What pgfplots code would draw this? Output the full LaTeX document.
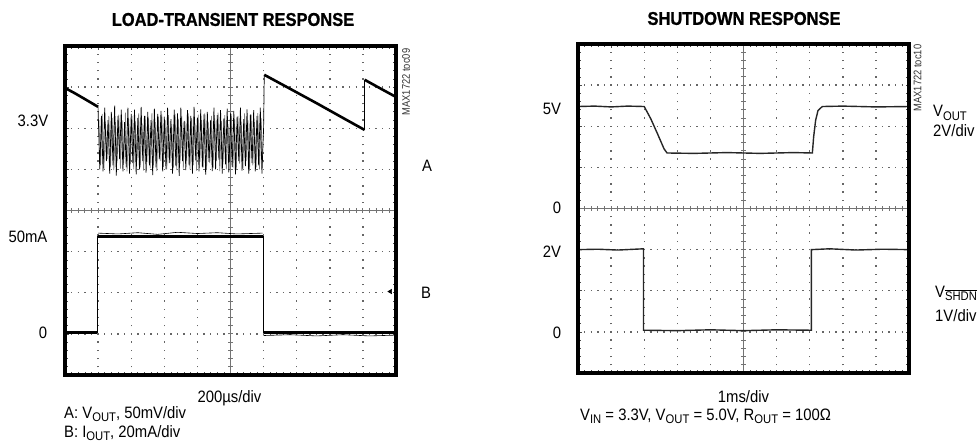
\documentclass[border=0pt]{standalone}
\usepackage{fontspec}
\setmainfont[FakeStretch=0.9]{Liberation Sans}
\newfontfamily\titlefont[FakeStretch=0.89, BoldFeatures={FakeStretch=0.89, FakeBold=1}]{Liberation Sans}
\newfontfamily\codefont[FakeStretch=0.85]{Liberation Sans}
\usepackage{pgfplots}
\pgfplotsset{compat=1.18}
\pgfplotsset{scopeaxis/.style={
  scale only axis, width=331pt, height=329pt,
  xmin=0, xmax=10, ymin=0, ymax=8,
  xtick={0,1,...,10}, ytick={0,1,...,8},
  minor x tick num=4, minor y tick num=4,
  xticklabels={}, yticklabels={},
  tick align=inside, major tick length=3.5pt, minor tick length=3pt,
  every tick/.style={black!70, line width=0.7pt},
  grid=major,
  major x grid style={black!60, line width=1.4pt, dash pattern=on 1.4pt off 6.825pt, dash phase=0.7pt},
  major y grid style={black!60, line width=1.4pt, dash pattern=on 1.4pt off 5.22pt, dash phase=0.7pt},
  axis line style={line width=3.5pt},
  every outer x axis line/.append style={line width=3.5pt},
  every outer y axis line/.append style={line width=3.5pt},
  anchor=south west,
}}
\newcommand{\sub}[1]{\raisebox{-0.35ex}{\fontsize{12.5}{13}\selectfont #1}}
\newcommand{\centercross}{%
\draw[black!55, line width=0.8pt] (axis cs:0,4) -- (axis cs:10,4);
\draw[black!55, line width=5pt, dash pattern=on 0.9pt off 5.72pt, dash phase=0.45pt] (axis cs:0,4) -- (axis cs:10,4);
\draw[black!55, line width=0.8pt] (axis cs:5,0) -- (axis cs:5,8);
\draw[black!55, line width=5pt, dash pattern=on 0.9pt off 7.325pt, dash phase=0.45pt] (axis cs:5,0) -- (axis cs:5,8);}
\newcommand{\frameit}{\draw[black, line width=3.5pt] (rel axis cs:0,0) rectangle (rel axis cs:1,1);}
\begin{document}
\begin{tikzpicture}
\useasboundingbox (0,0) rectangle (979pt,445pt);
% ---------------- LEFT PANEL ----------------
\begin{axis}[scopeaxis, at={(65pt,70pt)}, clip=false]
\centercross
% trace A: noisy part (gray)
\addplot[black!50, line width=0.7pt] coordinates {
(1.025,6.2) (1.075,5.1) (1.125,6.35) (1.175,5.0) (1.225,6.1) (1.275,5.25) (1.325,6.3) (1.375,5.05)
(1.425,6.25) (1.475,4.98) (1.525,6.15) (1.575,5.2) (1.625,6.33) (1.675,5.02) (1.725,6.2) (1.775,5.15)
(1.825,6.38) (1.875,4.95) (1.925,6.22) (1.975,5.12) (2.025,6.3) (2.075,5.0) (2.125,6.18) (2.175,5.22)
(2.225,6.36) (2.275,5.05) (2.325,6.12) (2.375,4.97) (2.425,6.3) (2.475,5.18) (2.525,6.24) (2.575,5.03)
(2.625,6.37) (2.675,5.1) (2.725,6.15) (2.775,4.96) (2.825,6.28) (2.875,5.2) (2.925,6.34) (2.975,5.06)
(3.025,6.2) (3.075,5.0) (3.125,6.32) (3.175,5.16) (3.225,6.1) (3.275,5.04) (3.325,6.35) (3.375,4.98)
(3.425,6.22) (3.475,5.14) (3.525,6.3) (3.575,5.02) (3.625,6.16) (3.675,5.2) (3.725,6.36) (3.775,5.0)
(3.825,6.25) (3.875,5.1) (3.925,6.12) (3.975,4.97) (4.025,6.33) (4.075,5.18) (4.125,6.2) (4.175,5.05)
(4.225,6.36) (4.275,4.99) (4.325,6.14) (4.375,5.15) (4.425,6.3) (4.475,5.03) (4.525,6.24) (4.575,5.2)
(4.625,6.38) (4.675,4.96) (4.725,6.18) (4.775,5.12) (4.825,6.32) (4.875,5.0) (4.925,6.1) (4.975,5.17)
(5.025,6.35) (5.075,5.04) (5.125,6.22) (5.175,4.98) (5.225,6.3) (5.275,5.14) (5.325,6.16) (5.375,5.02)
(5.425,6.36) (5.475,5.2) (5.525,6.2) (5.575,4.97) (5.625,6.33) (5.675,5.1) (5.725,6.15) (5.775,5.05)
(5.825,6.37) (5.875,5.0) (5.925,6.25) (5.975,5.15)
};
% trace A: noisy part (black)
\addplot[black, line width=0.7pt] coordinates {
(1.00,6.52) (1.00,6.45) (1.05,5.0) (1.10,6.3) (1.15,4.95) (1.20,6.5) (1.25,5.2) (1.30,6.2) (1.35,4.9)
(1.40,6.4) (1.45,5.1) (1.50,6.55) (1.55,4.85) (1.60,6.3) (1.65,5.25) (1.70,6.45) (1.75,4.95)
(1.80,6.15) (1.85,5.05) (1.90,6.5) (1.95,4.9) (2.00,6.35) (2.05,5.15) (2.10,6.45) (2.15,4.88)
(2.20,6.25) (2.25,5.0) (2.30,6.52) (2.35,5.2) (2.40,6.3) (2.45,4.92) (2.50,6.4) (2.55,5.1)
(2.60,6.2) (2.65,4.86) (2.70,6.48) (2.75,5.05) (2.80,6.35) (2.85,5.25) (2.90,6.42) (2.95,4.95)
(3.00,6.28) (3.05,5.0) (3.10,6.5) (3.15,5.15) (3.20,6.22) (3.25,4.9) (3.30,6.45) (3.35,5.08)
(3.40,6.36) (3.45,4.84) (3.50,6.5) (3.55,5.2) (3.60,6.18) (3.65,4.98) (3.70,6.44) (3.75,5.1)
(3.80,6.3) (3.85,4.9) (3.90,6.52) (3.95,5.22) (4.00,6.26) (4.05,4.95) (4.10,6.46) (4.15,5.05)
(4.20,6.34) (4.25,4.87) (4.30,6.4) (4.35,5.18) (4.40,6.2) (4.45,4.96) (4.50,6.5) (4.55,5.0)
(4.60,6.32) (4.65,5.24) (4.70,6.44) (4.75,4.9) (4.80,6.24) (4.85,5.12) (4.90,6.48) (4.95,4.93)
(5.00,6.36) (5.05,5.06) (5.10,6.42) (5.15,4.88) (5.20,6.28) (5.25,5.2) (5.30,6.5) (5.35,4.97)
(5.40,6.22) (5.45,5.08) (5.50,6.46) (5.55,4.9) (5.60,6.34) (5.65,5.15) (5.70,6.44) (5.75,4.95)
(5.80,6.3) (5.85,5.1) (5.90,6.5) (5.95,4.9) (6.00,6.0) (6.02,7.30)
};
% trace A: ramps (thick)
\addplot[black, line width=2.6pt] coordinates {(0,6.98) (0.3,6.85) (0.6,6.71) (1.0,6.52)};
\addplot[black, line width=2.6pt] coordinates {(6.02,7.30) (6.8,6.96) (7.6,6.61) (8.4,6.25) (9.05,5.96)};
\addplot[black, line width=0.7pt] coordinates {(9.05,5.96) (9.05,7.18)};
\addplot[black, line width=2.6pt] coordinates {(9.05,7.18) (9.5,6.98) (10,6.76)};
% trace B
\addplot[black, line width=0.7pt] coordinates {(0,1.03) (0.99,1.03) (0.99,3.38) (5.98,3.38) (5.98,1.03) (10,1.03)};
\addplot[black, line width=3pt] coordinates {(0,1.03) (0.97,1.03)};
\addplot[black, line width=3pt] coordinates {(1.0,3.38) (5.97,3.38)};
\addplot[black, line width=3pt] coordinates {(6.0,1.03) (10,1.03)};
\addplot[black, line width=0.6pt] coordinates {(1.0,3.45) (1.6,3.43) (2.2,3.46) (2.8,3.42) (3.4,3.47) (4.0,3.44) (4.6,3.46) (5.2,3.43) (5.97,3.45)};
\addplot[black, line width=0.6pt] coordinates {(6.0,0.96) (6.8,0.98) (7.6,0.95) (8.4,0.98) (9.2,0.95) (10,0.97)};
\addplot[only marks, mark=triangle*, mark size=2.6pt, mark options={rotate=90, fill=black}] coordinates {(9.83,2.03)};
\frameit
\end{axis}
% ---------------- RIGHT PANEL ----------------
\begin{axis}[scopeaxis, at={(578pt,72pt)}, clip=false]
\centercross
% V_OUT
\addplot[black!85, line width=1.4pt] coordinates {
(0,6.48) (0.5,6.49) (1.0,6.47) (1.5,6.49) (2.0,6.48) (2.2,6.18) (2.4,5.82) (2.6,5.45) (2.69,5.35)
(3.5,5.34) (4.5,5.36) (5.5,5.34) (6.5,5.36) (7.08,5.35) (7.12,5.75) (7.18,6.15) (7.25,6.38) (7.38,6.48)
(8.0,6.49) (9.0,6.47) (10,6.48)};
% V_SHDN
\addplot[black!85, line width=1.4pt] coordinates {
(0,3.0) (0.6,3.01) (1.2,2.99) (1.98,3.02) (1.98,1.04) (3.0,1.03) (4.0,1.05) (5.0,1.03) (6.0,1.05) (7.05,1.04)
(7.05,3.0) (7.6,3.02) (8.4,2.99) (9.2,3.01) (10,3.0)};
\frameit
\end{axis}
% ---------------- TEXT ----------------
\node[font=\titlefont\bfseries\fontsize{18.5}{20}\selectfont] at (233pt,425.5pt) {LOAD-TRANSIENT RESPONSE};
\node[font=\titlefont\bfseries\fontsize{18.5}{20}\selectfont] at (744pt,426.5pt) {SHUTDOWN RESPONSE};
\node[font=\codefont\fontsize{11}{12}\selectfont, rotate=90, black!80] at (406pt,363pt) {MAX1722 toc09};
\node[font=\codefont\fontsize{11}{12}\selectfont, rotate=90, black!80] at (917.5pt,367pt) {MAX1722 toc10};
\begin{scope}[every node/.style={font=\fontsize{16.5}{18}\selectfont, inner sep=0pt}]
\node[anchor=base] at (33pt,318pt) {3.3V};
\node[anchor=base] at (28pt,203pt) {50mA};
\node[anchor=base] at (43pt,107pt) {0};
\node[anchor=base] at (427pt,273pt) {A};
\node[anchor=base] at (426pt,147pt) {B};
\node[anchor=base] at (229.5pt,43pt) {200µs/div};
\node[anchor=base west] at (64pt,27pt) {A: V\sub{OUT}, 50mV/div};
\node[anchor=base west] at (64pt,8pt) {B: I\sub{OUT}, 20mA/div};
\node[anchor=base] at (552pt,330pt) {5V};
\node[anchor=base] at (557pt,232pt) {0};
\node[anchor=base] at (552pt,188pt) {2V};
\node[anchor=base] at (557pt,107pt) {0};
\node[anchor=base west] at (933pt,328pt) {V\sub{OUT}};
\node[anchor=base west] at (933pt,308pt) {2V/div};
\node[anchor=base west] at (935pt,148pt) {V\sub{$\overline{\mbox{SHDN}}$}};
\node[anchor=base west] at (935pt,124pt) {1V/div};
\node[anchor=base] at (743.5pt,43pt) {1ms/div};
\node[anchor=base west] at (580pt,25pt) {V\sub{IN} = 3.3V, V\sub{OUT} = 5.0V, R\sub{OUT} = 100Ω};
\end{scope}
\end{tikzpicture}
\end{document}
